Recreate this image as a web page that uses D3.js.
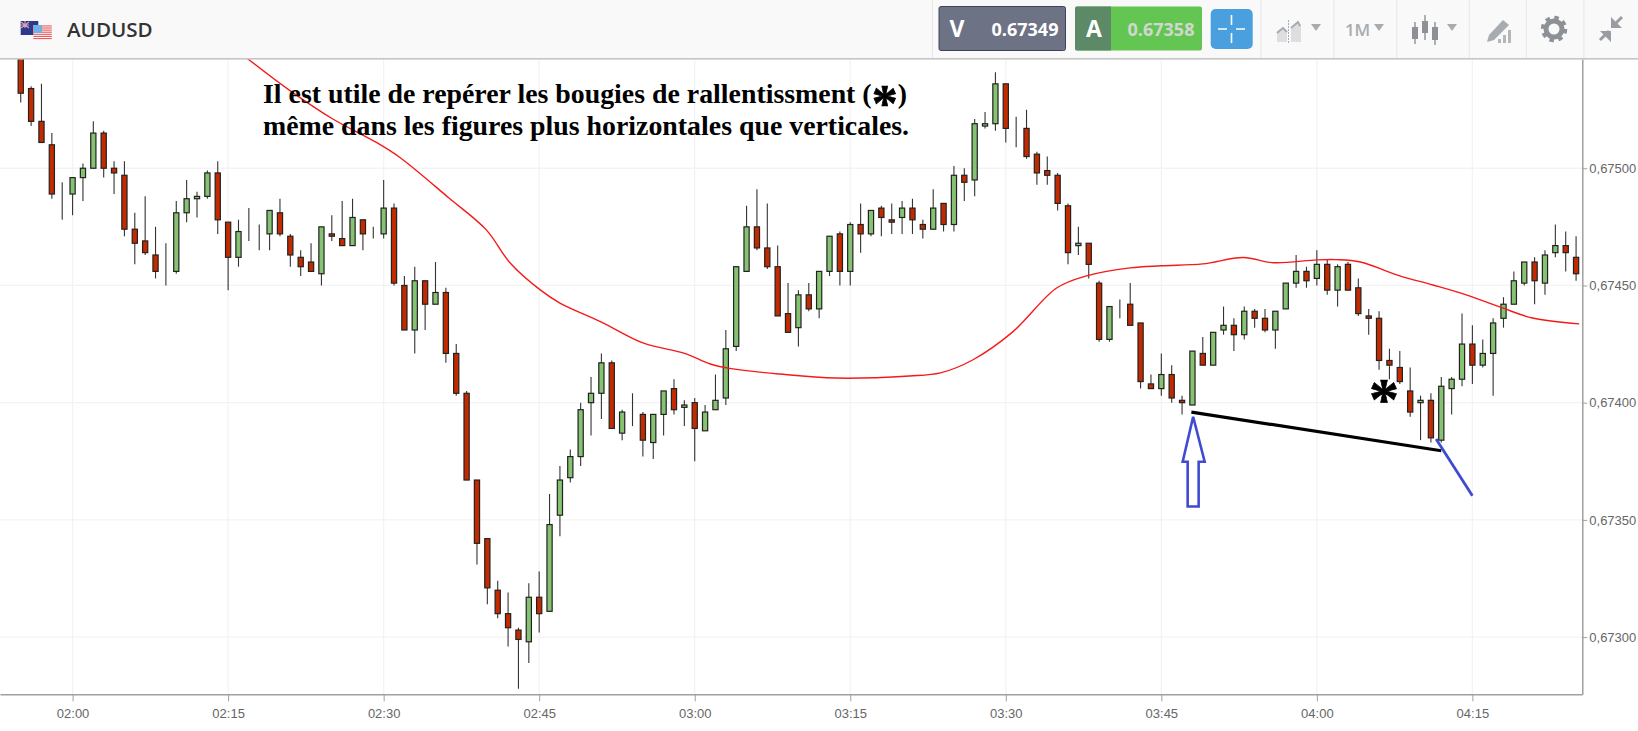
<!DOCTYPE html>
<html>
<head>
<meta charset="utf-8">
<title>AUDUSD</title>
<script src="https://cdn.jsdelivr.net/npm/d3@7"></script>
<style>
body { margin: 0; background: #fff; }
svg { display: block; }
.axis text { font-family: "Liberation Sans", Arial, sans-serif; font-size: 13px; fill: #666; }
.axis path, .axis line { stroke: #a0a0a0; }
.axis path { stroke-width: 1.5px; }
.head text { font-family: "Open Sans", sans-serif; }
</style>
</head>
<body>
<div id="chart"></div>
<script>
// Prices are in 1/100000, so 67500 is 0,67500. Minutes count from 02:00.
const minutes = d3.range(-5, 146);
const open = [67550,67534,67520,67510,67489,67489,67496,67500,67515,67500,67497,67474,67469,67463,67456,67456,67481,67487,67488,67498,67477,67462,67473,67472,67472,67481,67471,67462,67460,67455,67472,67470,67467,67478,67471,67472,67483,67450,67431,67452,67442,67447,67421,67404,67367,67342,67320,67310,67303,67298,67317,67311,67352,67368,67377,67400,67404,67417,67387,67395,67395,67383,67395,67406,67398,67400,67388,67397,67402,67424,67456,67475,67466,67458,67438,67432,67446,67440,67456,67472,67456,67476,67472,67483,67478,67479,67483,67476,67474,67485,67476,67497,67495,67518,67519,67536,67517,67517,67506,67499,67497,67484,67467,67468,67451,67427,67442,67442,67434,67408,67406,67412,67401,67399,67421,67416,67431,67433,67429,67439,67436,67431,67440,67451,67456,67453,67459,67448,67459,67449,67437,67436,67418,67415,67405,67400,67401,67384,67406,67410,67425,67416,67421,67436,67442,67451,67460,67451,67464,67467,67462];
const high = [67560,67535,67536,67515,67494,67496,67502,67520,67516,67503,67503,67481,67488,67475,67468,67486,67495,67490,67499,67503,67477,67478,67483,67476,67482,67487,67472,67465,67468,67475,67480,67486,67487,67478,67475,67495,67485,67454,67458,67452,67460,67449,67425,67405,67367,67342,67324,67319,67304,67323,67328,67361,67373,67380,67400,67411,67421,67418,67397,67404,67396,67395,67405,67410,67401,67402,67399,67412,67431,67458,67484,67491,67485,67467,67451,67448,67451,67456,67471,67473,67477,67485,67482,67484,67485,67486,67487,67478,67491,67485,67501,67500,67521,67524,67541,67536,67522,67525,67507,67505,67498,67485,67475,67468,67452,67441,67444,67451,67434,67412,67421,67416,67403,67422,67428,67430,67441,67436,67441,67440,67440,67439,67451,67463,67458,67465,67461,67459,67460,67453,67440,67439,67423,67422,67415,67403,67404,67411,67411,67438,67433,67427,67436,67445,67456,67460,67462,67465,67476,67473,67471];
const low = [67528,67518,67511,67487,67478,67480,67486,67500,67496,67489,67471,67459,67463,67453,67450,67455,67477,67479,67487,67472,67448,67458,67469,67465,67465,67471,67458,67454,67456,67450,67469,67467,67467,67465,67470,67470,67450,67431,67421,67431,67442,67417,67403,67367,67331,67314,67308,67296,67278,67289,67302,67311,67343,67366,67373,67386,67393,67389,67384,67390,67377,67376,67386,67395,67390,67375,67388,67397,67399,67422,67456,67465,67457,67437,67430,67424,67439,67436,67454,67450,67450,67464,67471,67471,67472,67472,67472,67470,67474,67473,67473,67486,67488,67517,67516,67511,67509,67504,67493,67493,67482,67459,67463,67453,67426,67426,67436,67433,67406,67406,67403,67400,67395,67399,67416,67416,67429,67422,67427,67432,67430,67423,67440,67449,67449,67450,67446,67441,67448,67437,67429,67414,67410,67408,67394,67384,67383,67383,67395,67407,67408,67415,67403,67432,67442,67450,67442,67446,67462,67456,67452];
const close = [67532,67520,67511,67489,67489,67496,67500,67515,67500,67498,67474,67468,67464,67456,67456,67481,67487,67488,67498,67478,67462,67473,67473,67472,67482,67472,67463,67458,67456,67475,67471,67467,67479,67472,67471,67483,67451,67431,67452,67442,67447,67421,67404,67367,67340,67321,67310,67304,67299,67317,67310,67348,67367,67377,67397,67404,67417,67389,67396,67395,67384,67395,67405,67397,67399,67389,67396,67401,67423,67458,67475,67466,67458,67437,67430,67446,67440,67456,67471,67456,67476,67472,67482,67479,67477,67483,67478,67474,67483,67476,67497,67494,67519,67519,67536,67517,67517,67505,67498,67497,67485,67464,67468,67459,67427,67441,67442,67433,67409,67406,67412,67402,67400,67422,67416,67430,67433,67429,67439,67436,67431,67439,67451,67456,67452,67459,67448,67458,67448,67438,67436,67418,67416,67409,67396,67401,67385,67407,67410,67425,67416,67421,67434,67442,67452,67460,67452,67463,67467,67464,67455];

// red average line
const avgMinutes = [16.8,21,25.1,29.3,31.6,36.3,39.9,42.2,45.1,47,51,55,59.1,61.5,63.5,68.2,73.6,80.7,83.7,86.8,90.7,94.9,97.8,102,105,109,112.9,115.8,120,121.9,124.2,128,131.2,134.4,137.9,140.8,145.3];
const avgPrices = [67547,67533,67521,67511,67504.5,67487.3,67473.7,67459.6,67448.1,67442.5,67434.4,67425.5,67420.9,67416.5,67414.5,67412.2,67410.5,67411.4,67412.7,67418.2,67430.3,67448.9,67454.1,67457.5,67458.4,67459.2,67461.9,67459.7,67460.9,67461,67460,67454.1,67450.2,67446,67440.4,67436.1,67433.6];

const xTicks = [0,15,30,45,60,75,90,105,120,135];
const xTickLabels = ["02:00","02:15","02:30","02:45","03:00","03:15","03:30","03:45","04:00","04:15"];
const yTicks = [67300,67350,67400,67450,67500];

// drawn on top of the chart
const trendMinutes = [107.9,132];
const trendPrices = [67396,67379.5];
const slashMinutes = [131.5,135];
const slashPrices = [67384.5,67360.3];
const arrowMinutes = [108.07,109.18,108.6,108.6,107.54,107.54,107.06];
const arrowPrices = [67394,67374.8,67374.8,67355.7,67355.7,67374.8,67374.8];
const noteLines = ["Il est utile de repérer les bougies de rallentissment (", "même dans les figures plus horizontales que verticales."];

const width = 1638, height = 731;
const plotRight = 1582.3, plotTop = 59, plotBottom = 694.3;

const svg = d3.select("#chart").append("svg")
    .attr("width", width)
    .attr("height", height);

const x = d3.scaleLinear().domain([-7, 145.6]).range([0, plotRight]);
const y = d3.scaleLinear().domain([67275.6, 67546.6]).range([plotBottom, plotTop]);

svg.append("clipPath").attr("id", "plot").append("rect")
    .attr("x", 0).attr("y", plotTop).attr("width", plotRight).attr("height", plotBottom - plotTop);

// grid
svg.append("g").selectAll("line").data(xTicks).join("line")
    .attr("x1", d => x(d)).attr("x2", d => x(d))
    .attr("y1", plotTop).attr("y2", plotBottom)
    .attr("stroke", "#f3f3f3").attr("stroke-width", 1.3);
svg.append("g").selectAll("line").data(yTicks).join("line")
    .attr("x1", 0).attr("x2", plotRight)
    .attr("y1", d => y(d)).attr("y2", d => y(d))
    .attr("stroke", "#f3f3f3").attr("stroke-width", 1.3);

const plot = svg.append("g").attr("clip-path", "url(#plot)");

// candles
const candle = plot.append("g").selectAll("g").data(minutes).join("g");
candle.append("line")
    .attr("x1", d => x(d)).attr("x2", d => x(d))
    .attr("y1", (d, i) => y(high[i]))
    .attr("y2", (d, i) => y(low[i]))
    .attr("stroke", "#333").attr("stroke-width", 1.1);
candle.append("rect")
    .attr("x", d => x(d) - 2.6)
    .attr("width", 5.2)
    .attr("y", (d, i) => y(Math.max(open[i], close[i])))
    .attr("height", (d, i) => Math.abs(y(open[i]) - y(close[i])))
    .attr("fill", (d, i) => close[i] >= open[i] ? "#85c271" : "#c42a00")
    .attr("stroke", "#222").attr("stroke-width", 1.2);

// red average
const avgLine = d3.line()
    .x((d, i) => x(avgMinutes[i]))
    .y(d => y(d))
    .curve(d3.curveCatmullRom);
plot.append("path").datum(avgPrices)
    .attr("d", avgLine)
    .attr("fill", "none").attr("stroke", "#f51a1a").attr("stroke-width", 1.4);

// axes
svg.append("g").attr("class", "axis")
    .attr("transform", `translate(0,${plotBottom})`)
    .call(d3.axisBottom(x).tickValues(xTicks).tickSize(7).tickSizeOuter(0).tickPadding(7)
        .tickFormat((d, i) => xTickLabels[i]));
svg.append("g").attr("class", "axis")
    .attr("transform", `translate(${plotRight},0)`)
    .call(d3.axisRight(y).tickValues(yTicks).tickSize(5).tickSizeOuter(0).tickPadding(2)
        .tickFormat(d => (d / 100000).toFixed(5).replace(".", ",")));

// hand drawn marks
const pairLine = d3.line().x(d => x(d[0])).y(d => y(d[1]));
svg.append("path").datum(d3.zip(trendMinutes, trendPrices))
    .attr("d", pairLine).attr("stroke", "#000").attr("stroke-width", 3.2).attr("fill", "none");
svg.append("path").datum(d3.zip(slashMinutes, slashPrices))
    .attr("d", pairLine).attr("stroke", "#3f4bd0").attr("stroke-width", 2.8).attr("fill", "none");
svg.append("path").datum(d3.zip(arrowMinutes, arrowPrices))
    .attr("d", d => pairLine(d) + "Z").attr("stroke", "#3f4bd0").attr("stroke-width", 2.6).attr("fill", "none");

// note text
const note = svg.append("g")
    .attr("font-family", "'Liberation Serif', serif")
    .attr("font-weight", "bold")
    .attr("font-size", 27.85)
    .attr("fill", "#000");
const line1 = note.append("text").attr("x", 263).attr("y", 103);
line1.append("tspan").text(noteLines[0]);
line1.append("tspan").attr("font-size", 52).attr("dy", 18).attr("stroke", "#000").attr("stroke-width", 0.7).text("*");
line1.append("tspan").attr("dy", -18).text(")");
note.append("text").attr("x", 263).attr("y", 135).text(noteLines[1]);
note.append("text").attr("x", 1384).attr("y", 419).attr("text-anchor", "middle")
    .attr("font-size", 60).attr("stroke", "#000").attr("stroke-width", 0.7).text("*");

// top bar
const head = svg.append("g").attr("class", "head");
head.append("rect").attr("width", width).attr("height", 58).attr("fill", "#f9f9f9");
head.append("rect").attr("y", 58).attr("width", width).attr("height", 1.6).attr("fill", "#c6c6c6");
[932,1260.4,1333.4,1396.3,1468.8,1525.8,1583.4].forEach(sx => {
    head.append("rect").attr("x", sx).attr("width", 1).attr("height", 58).attr("fill", "#e6e6e6");
});

// flags
head.append("rect").attr("x", 20.7).attr("y", 21).attr("width", 17.6).attr("height", 14).attr("fill", "#2b3a8c");
head.append("path").attr("d", "M21,22L29,28M29,22L21,28M25,21V28M21,25H29")
    .attr("stroke", "#d9a0b4").attr("stroke-width", 1.1);
head.append("rect").attr("x", 33.4).attr("y", 25).attr("width", 18.4).attr("height", 14.6).attr("fill", "#f9f9f9");
d3.range(0, 7).forEach(k => {
    head.append("rect").attr("x", 33.4).attr("y", 25.4 + k * 2.1).attr("width", 18.4).attr("height", 1.1).attr("fill", "#ef5b5b");
});
head.append("rect").attr("x", 34).attr("y", 25).attr("width", 8).attr("height", 8).attr("fill", "#6fb0e6");

head.append("text").attr("x", 67).attr("y", 37)
    .attr("font-size", 20.6).attr("font-weight", 600).attr("fill", "#333").text("AUDUSD");

// bid / ask boxes
head.append("rect").attr("x", 939).attr("y", 6.5).attr("width", 126.5).attr("height", 44)
    .attr("rx", 2).attr("fill", "#6d7284").attr("stroke", "#40445a");
head.append("text").attr("x", 957).attr("y", 37).attr("text-anchor", "middle")
    .attr("font-size", 23).attr("font-weight", 700).attr("fill", "#fff").text("V");
head.append("text").attr("x", 1025).attr("y", 35.5).attr("text-anchor", "middle")
    .attr("font-size", 18).attr("font-weight", 700).attr("fill", "#fff").text("0.67349");
head.append("rect").attr("x", 1075).attr("y", 6.5).attr("width", 127).attr("height", 44)
    .attr("rx", 2).attr("fill", "#63c652");
head.append("path").attr("d", "M1077,6.5H1111V50.5H1077a2,2 0 0 1 -2,-2V8.5a2,2 0 0 1 2,-2Z").attr("fill", "#5d8a66");
head.append("text").attr("x", 1094).attr("y", 37).attr("text-anchor", "middle")
    .attr("font-size", 23).attr("font-weight", 700).attr("fill", "#fff").text("A");
head.append("text").attr("x", 1161).attr("y", 35.5).attr("text-anchor", "middle")
    .attr("font-size", 18).attr("font-weight", 700).attr("fill", "#d2d6d0").text("0.67358");

// crosshair button
head.append("rect").attr("x", 1210.7).attr("y", 9).attr("width", 42).attr("height", 40)
    .attr("rx", 5).attr("fill", "#4aa0de");
head.append("path").attr("d", "M1231.5,15V25M1231.5,33V43M1218,29H1227M1236,29H1245")
    .attr("stroke", "#fff").attr("stroke-width", 1.6);

// toolbar icons
const iconGrey = "#a8acb0";
const triangle = cx => head.append("path").attr("d", `M${cx - 5},24H${cx + 5}L${cx},31Z`).attr("fill", iconGrey);
head.append("path").attr("d", "M1277,42V31L1283,27L1287,32V42ZM1291,42V27L1298,21L1301,25V42Z").attr("fill", "#dcdee0");
head.append("path").attr("d", "M1277,33L1283,28L1287,32M1291,28L1298,22L1300,26").attr("stroke", iconGrey).attr("stroke-width", 2).attr("fill", "none");
head.append("path").attr("d", "M1288.5,20V44").attr("stroke", iconGrey).attr("stroke-dasharray", "2 1");
triangle(1316);
head.append("text").attr("x", 1357.6).attr("y", 36).attr("text-anchor", "middle")
    .attr("font-size", 17).attr("font-weight", 600).attr("fill", iconGrey).text("1M");
triangle(1379);
[[1415,22,44,27,39],[1425,15,40,21,33],[1435,22,45,27,40]].forEach(c => {
    head.append("path").attr("d", `M${c[0]},${c[1]}V${c[2]}`).attr("stroke", "#8d9196").attr("stroke-width", 1.4);
    head.append("rect").attr("x", c[0] - 3).attr("y", c[3]).attr("width", 6).attr("height", c[4] - c[3]).attr("fill", "#8d9196");
});
triangle(1452);
head.append("path").attr("d", "M1487,42L1489,35L1503,20L1509,25L1494,40Z").attr("fill", iconGrey);
head.append("path").attr("d", "M1498,43V39H1501V43ZM1503,43V35H1506V43ZM1508,43V30H1511V43Z").attr("fill", "#b4b7ba");
head.append("circle").attr("cx", 1554).attr("cy", 29).attr("r", 8)
    .attr("fill", "none").attr("stroke", "#8d9196").attr("stroke-width", 5);
head.append("circle").attr("cx", 1554).attr("cy", 29).attr("r", 11.5)
    .attr("fill", "none").attr("stroke", "#8d9196").attr("stroke-width", 3.5).attr("stroke-dasharray", "4.5 4.53");
head.append("path").attr("d", "M1622,17L1613,26M1600,40L1609,31").attr("stroke", "#999da1").attr("stroke-width", 3);
head.append("path").attr("d", "M1611,17V28H1622ZM1600,31H1611V42Z").attr("fill", "#999da1");
</script>
</body>
</html>
